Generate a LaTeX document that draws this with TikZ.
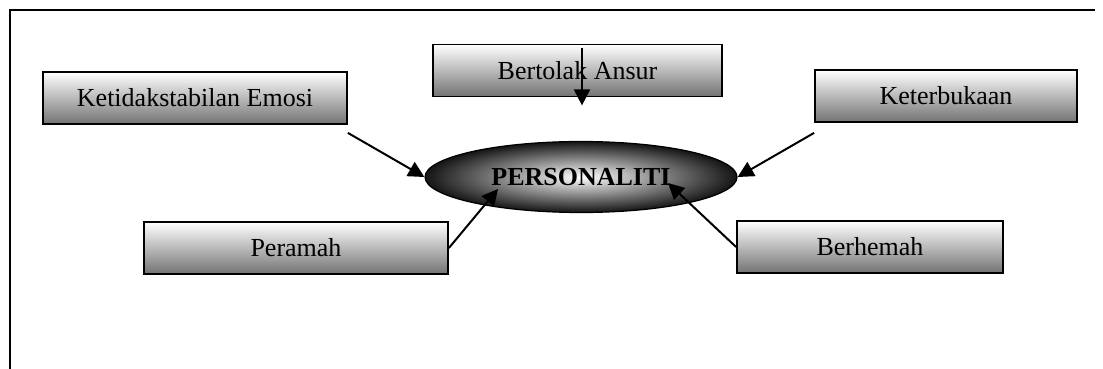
\documentclass[tikz,border=0pt]{standalone}
\usepackage{fontspec}
\setmainfont{Liberation Serif}
\usetikzlibrary{arrows.meta}
\usetikzlibrary{shapes.geometric}

\tikzset{
  trait/.style={draw=black, line width=0.9pt, rectangle, inner sep=0pt,
    top color=white, bottom color=black!55, minimum height=26pt,
    font=\fontsize{13}{15}\selectfont},
  core/.style={draw=black, line width=0.6pt, ellipse, inner sep=0pt,
    inner color=white, outer color=black!92, minimum width=156pt,
    minimum height=35.5pt, font=\fontsize{13}{15}\selectfont\bfseries},
  link/.style={line width=1pt, -{Triangle[width=8pt,length=8pt]}}
}

\begin{document}
\begin{tikzpicture}[x=0.5pt,y=-0.5pt]
\useasboundingbox (0,0) rectangle (1103,369);

% Frame
\draw[line width=1pt] (10,369) -- (10,10) -- (1095,10);

% Traits
\node[trait, minimum width=152pt] (emosi) at (195,98) {Ketidakstabilan Emosi};
\node[trait, minimum width=144.5pt] (ansur) at (577.5,70.5) {Bertolak Ansur};
\node[trait, minimum width=131pt] (buka) at (946,96) {Keterbukaan};
\node[trait, minimum width=152pt] (ramah) at (296,248) {Peramah};
\node[trait, minimum width=133pt] (hemah) at (870,247) {Berhemah};

% Centre
\node[core] (pers) at (581,177) {PERSONALITI};

% Links
\draw[link] ([yshift=-4pt]emosi.south east) -- (pers.west);
\draw[link] ([shift={(4.5,4)}]ansur.north) -- ([shift={(4.5,8)}]ansur.south);
\draw[link] ([yshift=-5pt]buka.south west) -- (pers.east);
\draw[link] (ramah.east) -- ([shift={(-83,12)}]pers.center);
\draw[link] (hemah.west) -- ([shift={(87,6)}]pers.center);
\end{tikzpicture}
\end{document}
